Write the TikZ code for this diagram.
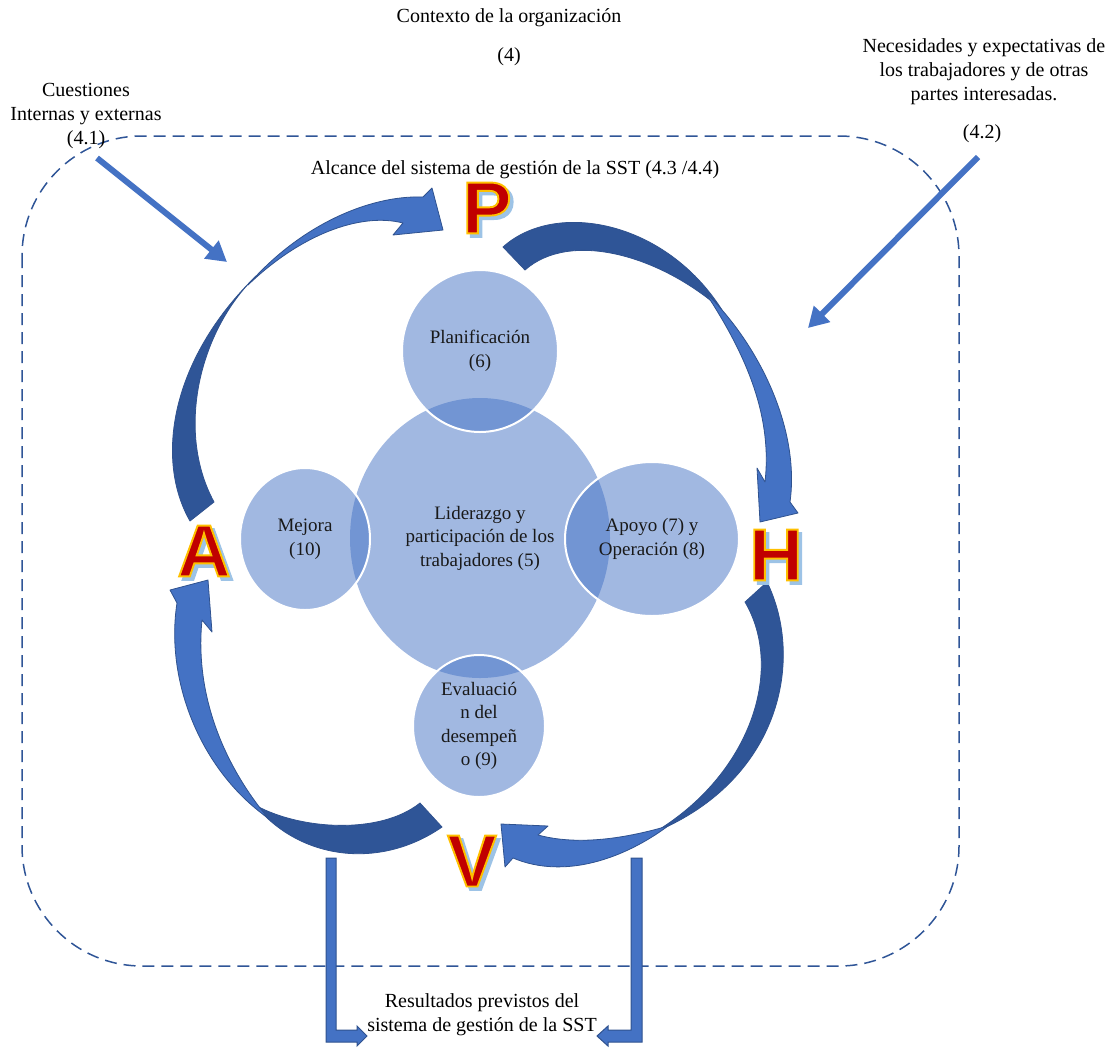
\documentclass[tikz,border=0pt]{standalone}
\usepackage{fontspec}
\setmainfont{Liberation Serif}
\newfontfamily\letfont{Liberation Sans}[BoldFeatures={FakeBold=2.6}]
\usetikzlibrary{arrows.meta,shapes.geometric}
\definecolor{darkb}{HTML}{2F5597}
\definecolor{lightb}{HTML}{4472C4}
\definecolor{edgeb}{HTML}{2F528F}
\definecolor{letred}{HTML}{C00000}
\definecolor{letgold}{HTML}{FFC000}
\definecolor{letshadow}{HTML}{9DC3E6}
\tikzset{
  lbl/.style={font=\fontsize{20}{24}\selectfont, align=center, inner sep=0pt, text=black},
  bubble/.style={ellipse, fill=lightb, fill opacity=0.5, text opacity=1, draw=white, line width=2pt,
    inner sep=0pt, align=center, font=\fontsize{19}{23.5}\selectfont, text=black!90},
  darkpart/.style={fill=darkb, draw=edgeb, line width=0.8pt, line join=round},
  lightpart/.style={fill=lightb, draw=edgeb, line width=0.8pt, line join=round},
  feed/.style={draw=lightb, line width=6pt, -{Triangle[length=20pt,width=22pt]}},
  bent/.style={fill=lightb, draw=edgeb, line width=1pt},
  frame/.style={draw=darkb, line width=1.5pt, dash pattern=on 12pt off 7pt, rounded corners=120pt},
  letnode/.style={inner sep=0pt, font=\letfont\bfseries\fontsize{74}{74}\selectfont},
}
\newcommand\pdcaletter[3]{%
  \node[letnode] (#1) at #2 {\rlap{\kern3.5pt\smash{\lower3.5pt\hbox{\textcolor{letshadow}{#3}}}}%
    \special{pdf:bcolor [0.753 0 0] [1 0.753 0]}#3\special{pdf:ecolor}};
}
\begin{document}
\begin{tikzpicture}[x=1pt,y=-1pt]
\useasboundingbox (0,0) rectangle (1108,1047);

% frame
\draw[frame] (22,136) rectangle (959,966);

% texts
\node[lbl] (ctx) at (509,18) {Contexto de la organización};
\node[lbl] (ctxn) at (509,57) {(4)};
\node[lbl] (alc) at (515,170) {Alcance del sistema de gestión de la SST (4.3 /4.4)};
\node[lbl] (cue) at (86,116) {Cuestiones\\Internas y externas\\(4.1)};
\node[lbl] (nec) at (984,72) {Necesidades y expectativas de\\los trabajadores y de otras\\partes interesadas.};
\node[lbl] (necn) at (982,134) {(4.2)};
\node[lbl] (res) at (482,1015) {Resultados previstos del\\sistema de gestión de la SST};

% feed arrows
\coordinate (f1s) at (97,158);
\coordinate (f1e) at (227,262);
\coordinate (f2s) at (978,157);
\coordinate (f2e) at (808,328);
\draw[feed] (f1s) -- (f1e);
\draw[feed] (f2s) -- (f2e);

% curved arrow A -> P
\path[darkpart] (190,521) .. controls (155,460) and (170,360) .. (256,276)
  .. controls (200,330) and (175,430) .. (214,502) -- cycle;
\path[lightpart] (248,285) .. controls (300,225) and (370,195) .. (423,197)
  -- (432,188) -- (443,230) -- (393,235) -- (403,223)
  .. controls (360,212) and (300,235) .. (248,285) -- cycle;

% curved arrow P -> H
\path[darkpart] (503,247) .. controls (555,200) and (665,220) .. (722,310)
  .. controls (660,255) and (570,230) .. (525,270) -- cycle;
\path[lightpart] (705,292) .. controls (760,345) and (800,430) .. (790,502)
  -- (798,513) -- (760,522) -- (757,468) -- (765,482)
  .. controls (772,420) and (750,360) .. (705,292) -- cycle;

% curved arrow H -> V
\path[darkpart] (767,582) .. controls (805,660) and (780,780) .. (655,832)
  .. controls (750,775) and (785,670) .. (745,602) -- cycle;
\path[lightpart] (668,826) .. controls (625,858) and (565,880) .. (513,858)
  -- (505,867) -- (501,824) -- (548,826) -- (538,835)
  .. controls (575,845) and (620,840) .. (668,826) -- cycle;

% curved arrow V -> A
\path[darkpart] (442,827) .. controls (380,870) and (300,860) .. (255,805)
  .. controls (300,830) and (380,835) .. (420,803) -- cycle;
\path[lightpart] (268,818) .. controls (200,770) and (165,680) .. (177,603)
  -- (170,590) -- (208,580) -- (212,632) -- (202,620)
  .. controls (195,690) and (220,760) .. (268,818) -- cycle;

% bubbles
\node[bubble, draw=none, minimum width=260pt, minimum height=280pt] (lid) at (480,538) {Liderazgo y\\participación de los\\trabajadores (5)};
\node[bubble, minimum width=156pt, minimum height=162pt] (pla) at (480,351) {Planificación\\(6)};
\node[bubble, minimum width=130pt, minimum height=142pt] (mej) at (305,539) {Mejora\\(10)};
\node[bubble, minimum width=174pt, minimum height=154pt] (apo) at (652,539) {Apoyo (7) y\\Operación (8)};
\node[bubble, minimum width=132pt, minimum height=142pt] (eva) at (479,726) {Evaluació\\n del\\desempeñ\\o (9)};

% bent arrows to results
\path[bent] (326,858) -- (336,858) -- (336,1030) -- (357,1030) -- (357,1026) -- (367,1036) -- (357,1046) -- (357,1042) -- (326,1042) -- cycle;
\path[bent] (631,858) -- (642,858) -- (642,1042) -- (608,1042) -- (608,1046) -- (597,1036) -- (608,1026) -- (608,1030) -- (631,1030) -- cycle;

% PHVA letters
\pdcaletter{letP}{(487,208)}{P}
\pdcaletter{letH}{(776,555)}{H}
\pdcaletter{letV}{(472,861)}{V}
\pdcaletter{letA}{(204,551)}{A}
\end{tikzpicture}
\end{document}
